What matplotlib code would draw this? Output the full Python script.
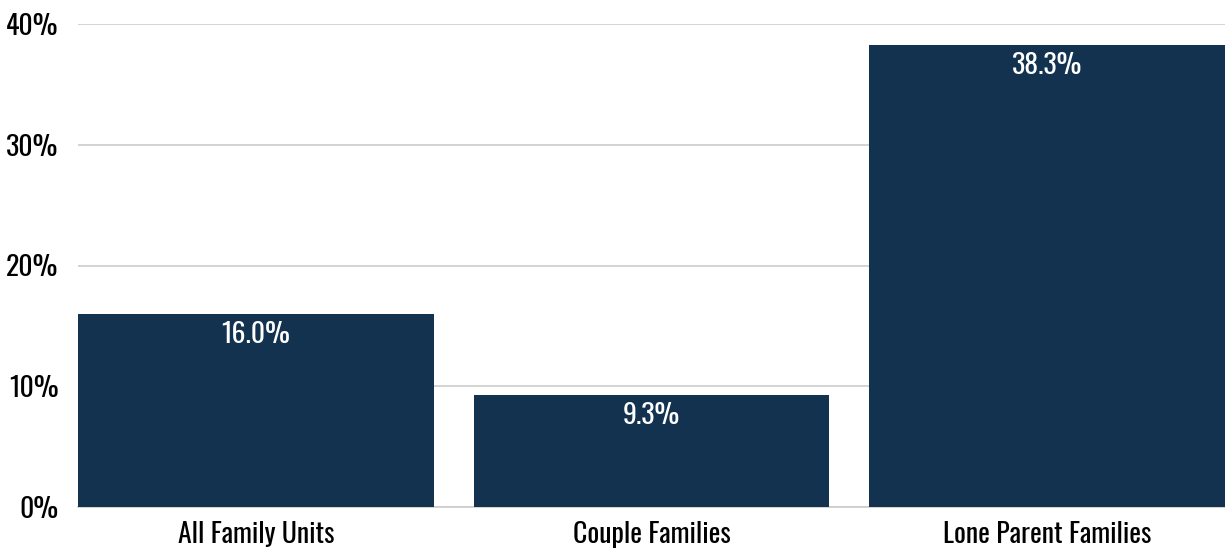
import matplotlib
matplotlib.use('Agg')
import matplotlib.pyplot as plt
from matplotlib.ticker import PercentFormatter

plt.rcParams['font.family'] = ['Oswald', 'DejaVu Sans']

# share of family units in low income
categories = ['All Family Units', 'Couple Families', 'Lone Parent Families']
rates = [16.0, 9.3, 38.3]
yticks = [0, 10, 20, 30, 40]

bar_color = '#12324f'
grid_color = '#cccccc'

fig = plt.figure(figsize=(12.25, 5.48), dpi=100)
ax = fig.add_axes([78 / 1225, 41 / 548, 1 - 78 / 1225, 483 / 548])

x = range(len(categories))
bars = ax.bar(x, rates, width=0.9, color=bar_color, zorder=3)

for b, v in zip(bars, rates):
    ax.annotate(f'{v:.1f}%', (b.get_x() + b.get_width() / 2, v),
                xytext=(0, -5.5), textcoords='offset points',
                ha='center', va='top', color='white', fontsize=20, zorder=4)

ax.set_xlim(-0.45, len(categories) - 0.55)
ax.set_ylim(0, 40)
ax.set_yticks(yticks)
ax.yaxis.set_major_formatter(PercentFormatter(decimals=0))
ax.set_xticks(list(x))
ax.set_xticklabels(categories)
ax.tick_params(axis='both', length=0, labelsize=20, colors='black')
ax.tick_params(axis='y', pad=14)
ax.tick_params(axis='x', pad=10)

ax.grid(axis='y', color=grid_color, linewidth=1.2, zorder=0)
ax.set_axisbelow(True)
for s in ['top', 'right', 'left']:
    ax.spines[s].set_visible(False)
ax.spines['bottom'].set_color(grid_color)
ax.spines['bottom'].set_linewidth(1.2)

fig.savefig('out.png', dpi=100)
